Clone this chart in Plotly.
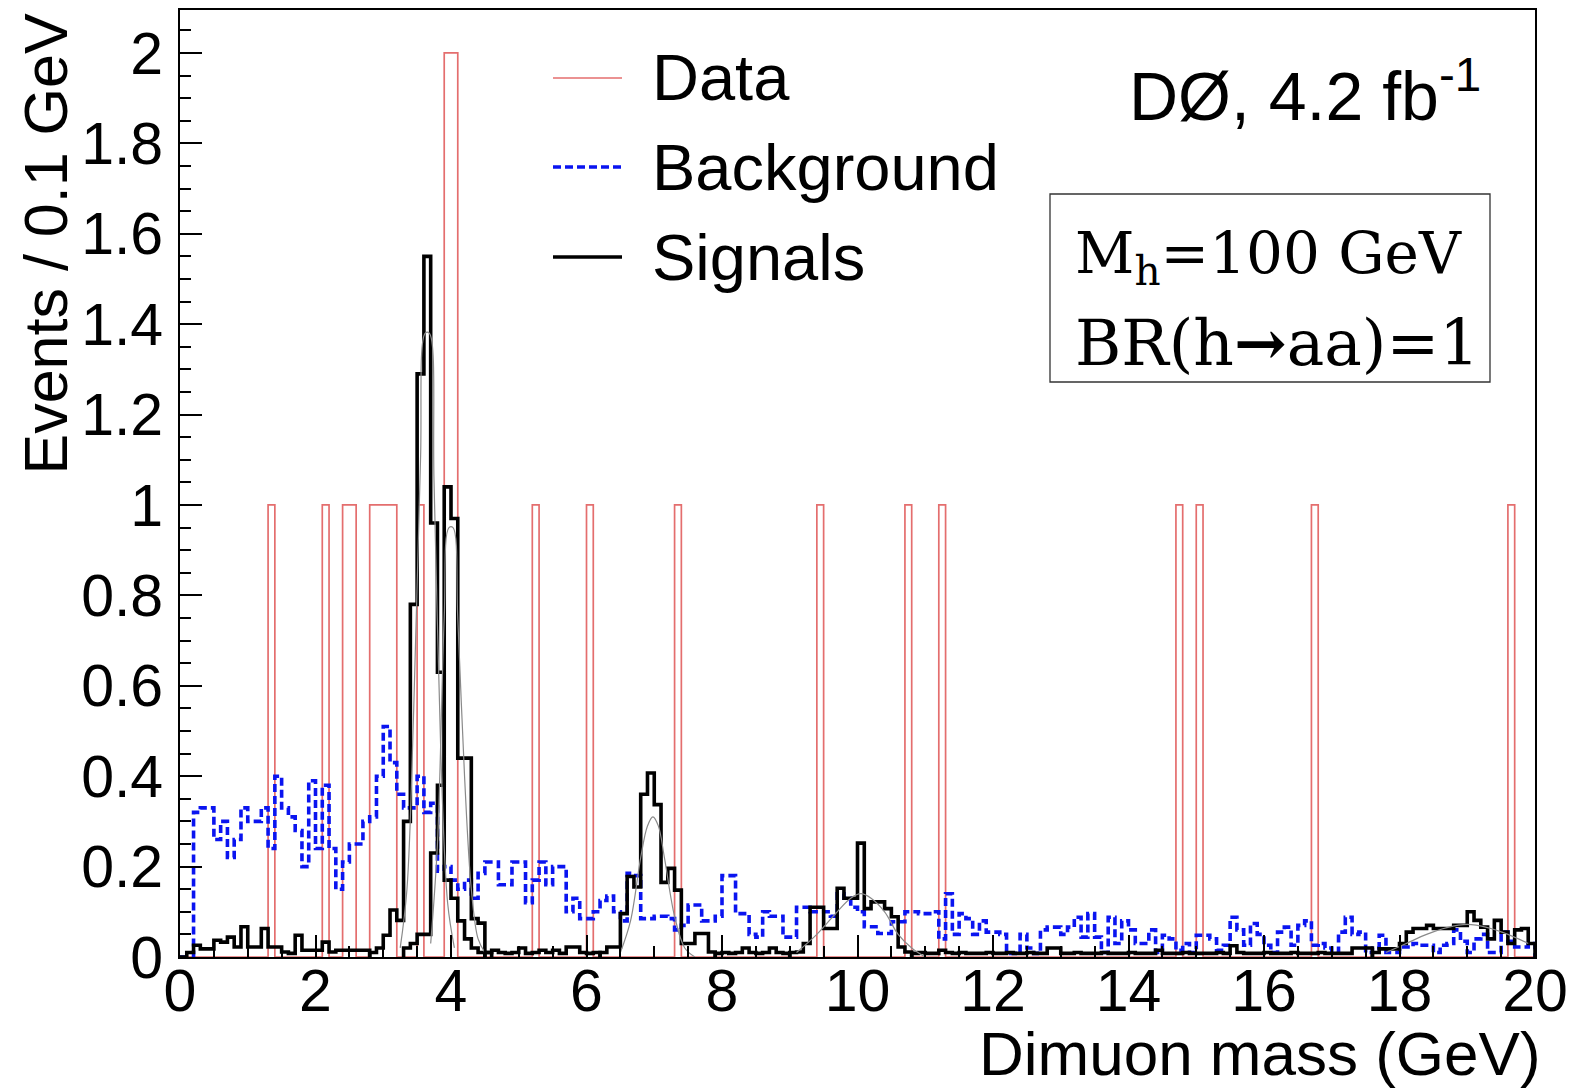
import plotly.graph_objects as go

BIN = 0.1

# ---------------- data (events per 0.1 GeV bin) ----------------
data_bin_lo = [1.3, 2.1, 2.4, 2.5, 2.8, 2.9, 3.0, 3.1, 3.5, 3.9, 4.0, 5.2, 6.0,
               7.3, 9.4, 10.7, 11.2, 14.7, 15.0, 16.7, 19.6]
data_counts = [1, 1, 1, 1, 1, 1, 1, 1, 1, 2, 2, 1, 1,
               1, 1, 1, 1, 1, 1, 1, 1]

# ---------------- background, 200 bins from 0 to 20 GeV ----------------
bkg_start = 0.0
bkg_values = [
    0, 0, 0.32, 0.33, 0.33, 0.26, 0.30, 0.22, 0.26, 0.33,
    0.30, 0.30, 0.33, 0.24, 0.40, 0.33, 0.31, 0.28, 0.20, 0.39,
    0.24, 0.38, 0.24, 0.15, 0.21, 0.25, 0.25, 0.30, 0.31, 0.40,
    0.51, 0.43, 0.36, 0.33, 0.33, 0.40, 0.32, 0.34, 0.19, 0.20,
    0.17, 0.15, 0.17, 0.13, 0.185, 0.21, 0.21, 0.16, 0.16, 0.21,
    0.21, 0.12, 0.17, 0.21, 0.16, 0.20, 0.20, 0.10, 0.13, 0.085,
    0.085, 0.10, 0.125, 0.135, 0.10, 0.08, 0.185, 0.18, 0.085, 0.085,
    0.09, 0.09, 0.085, 0.06, 0.07, 0.115, 0.115, 0.08, 0.08, 0.09,
    0.18, 0.18, 0.096, 0.096, 0.05, 0.044, 0.10, 0.09, 0.09, 0.044,
    0.044, 0.11, 0.11, 0.10, 0.10, 0.10, 0.09, 0.14, 0.13, 0.11,
    0.10, 0.067, 0.067, 0.052, 0.052, 0.078, 0.078, 0.10, 0.10, 0.096,
    0.096, 0.10, 0.04, 0.14, 0.05, 0.096, 0.085, 0.05, 0.08, 0.055,
    0.055, 0.05, 0.008, 0.008, 0.05, 0.02, 0.008, 0.06, 0.066, 0.066,
    0.05, 0.066, 0.088, 0.044, 0.096, 0.044, 0.01, 0.088, 0.03, 0.08,
    0.06, 0.03, 0.03, 0.06, 0.01, 0.048, 0.04, 0.015, 0.03, 0.01,
    0.048, 0.048, 0.04, 0.015, 0.026, 0.088, 0.06, 0.026, 0.074, 0.05,
    0.026, 0.01, 0.055, 0.066, 0.026, 0.07, 0.08, 0.026, 0.03, 0.02,
    0.01, 0.055, 0.088, 0.05, 0.055, 0.01, 0.02, 0.048, 0.01, 0.01,
    0.022, 0.022, 0.03, 0.026, 0.026, 0.01, 0.026, 0.03, 0.06, 0.035,
    0.01, 0.04, 0.05, 0.01, 0.01, 0.055, 0.035, 0.022, 0.022, 0.03,
]

# ---------------- signal histograms ----------------
sig_low_start = 0.0
sig_low_values = [0.0, 0.01, 0.026, 0.018, 0.018, 0.037, 0.033, 0.044, 0.022, 0.067,
                  0.022, 0.022, 0.063, 0.022, 0.022, 0.011, 0.008, 0.048, 0.015, 0.015,
                  0.015, 0.033, 0.011, 0.015, 0.015, 0.015, 0.015, 0.015]
sigA_start = 2.8
sigA_values = [0.01, 0.02, 0.048, 0.104, 0.081, 0.30, 0.78, 1.29, 1.55, 0.96,
               0.63, 0.17, 0.13, 0.08, 0.04, 0.02, 0.01]
sigB_start = 3.3
sigB_values = [0.02, 0.03, 0.05, 0.05, 0.23, 0.38, 1.04, 0.97, 0.44, 0.44,
               0.085, 0.075, 0.01]
sig_mid_start = 4.5
sig_mid_values = [0.01, 0.015, 0.01, 0.008, 0.01, 0.02, 0.008, 0.01, 0.015, 0.01,
                  0.015, 0.008, 0.022, 0.022, 0.01, 0.008, 0.01]
sigC_start = 6.2
sigC_values = [0.01, 0.022, 0.022, 0.096, 0.178, 0.155, 0.36, 0.407, 0.337, 0.165,
               0.196, 0.148, 0.03, 0.03, 0.052, 0.052, 0.011]
sig_mid2_start = 7.9
sig_mid2_values = [0.008, 0.01, 0.008, 0.01, 0.02, 0.01, 0.008, 0.01, 0.02, 0.01, 0.008]
sigD_start = 9.0
sigD_values = [0.01, 0.011, 0.03, 0.11, 0.11, 0.063, 0.063, 0.152, 0.13, 0.13,
               0.252, 0.107, 0.122, 0.122, 0.107, 0.089, 0.022, 0.011]
sig_floor_start = 10.8
sig_floor_values = [0.008, 0.01, 0.008, 0.008, 0.015, 0.01, 0.008, 0.01, 0.008, 0.008,
                    0.008, 0.01, 0.008, 0.008, 0.01, 0.008, 0.008, 0.01, 0.008, 0.008,
                    0.02, 0.02, 0.008, 0.008, 0.01, 0.008, 0.008, 0.008, 0.01, 0.008,
                    0.008, 0.008, 0.01, 0.008, 0.008, 0.008, 0.015, 0.008, 0.008, 0.008,
                    0.01, 0.008, 0.008, 0.008, 0.008, 0.01, 0.008, 0.025, 0.01, 0.008,
                    0.008, 0.008, 0.01, 0.008, 0.008, 0.008, 0.01, 0.008, 0.008, 0.008,
                    0.01, 0.008, 0.008, 0.008, 0.008, 0.02, 0.02, 0.02]
sigE_start = 17.6
sigE_values = [0.01, 0.018, 0.018, 0.018, 0.03, 0.055, 0.063, 0.063, 0.07, 0.063,
               0.063, 0.063, 0.07, 0.07, 0.1, 0.081, 0.066, 0.04, 0.081, 0.055,
               0.03, 0.06, 0.063, 0.03]

# ---------------- fitted signal shapes (thin grey curves) ----------------
fitA_x = [3.25, 3.35, 3.45, 3.55, 3.62, 3.68, 3.75, 3.85, 3.95, 4.05]
fitA_y = [0.02, 0.15, 0.55, 1.10, 1.38, 1.38, 1.05, 0.45, 0.12, 0.02]
fitB_x = [3.7, 3.8, 3.9, 3.97, 4.03, 4.1, 4.2, 4.3, 4.4, 4.5]
fitB_y = [0.03, 0.25, 0.75, 0.95, 0.95, 0.75, 0.40, 0.15, 0.04, 0.01]
fitC_x = [6.5, 6.65, 6.8, 6.9, 6.98, 7.06, 7.15, 7.3, 7.45, 7.6]
fitC_y = [0.01, 0.08, 0.22, 0.29, 0.31, 0.29, 0.22, 0.09, 0.02, 0.0]
fitD_x = [9.1, 9.4, 9.7, 9.9, 10.05, 10.2, 10.4, 10.6, 10.8, 11.0]
fitD_y = [0.01, 0.05, 0.10, 0.13, 0.14, 0.13, 0.10, 0.05, 0.02, 0.0]
fitE_x = [17.8, 18.1, 18.4, 18.7, 19.0, 19.3, 19.6, 19.9]
fitE_y = [0.01, 0.03, 0.05, 0.065, 0.072, 0.065, 0.05, 0.03]

x_ticks = [0, 2, 4, 6, 8, 10, 12, 14, 16, 18, 20]
y_ticks = [0, 0.2, 0.4, 0.6, 0.8, 1, 1.2, 1.4, 1.6, 1.8, 2]

# ---------------- helpers ----------------
def step_xy(start, values):
    i0 = round(start / BIN)
    edges = [round((i0 + i) * BIN, 4) for i in range(len(values) + 1)]
    x = [edges[0]] + edges
    y = [0] + list(values) + [0]
    return x, y

data_full = [0] * 200
for lo, c in zip(data_bin_lo, data_counts):
    data_full[round(lo / BIN)] = c

# page body has an 8px default margin: size the figure so it fits the window
OFF = 8
W, H = 1578 - OFF, 1088 - OFF
# plot area in screen pixels: x 180..1535, y 10..957
SX0, SX1, SY0, SY1 = 180, 1535, 10, 957
L, T = SX0 - OFF, SY0 - OFF
R, B = W - (SX1 - OFF), H - (SY1 - OFF)
PW, PH = SX1 - SX0, SY1 - SY0


def px(xs):
    return (xs - SX0) / PW


def py(ys):
    return (SY1 - ys) / PH


FONT = "Liberation Sans, Arial, sans-serif"
SERIF = "DejaVu Serif, serif"
RED = "#e46e6e"
BLUE = "#0a14f0"

fig = go.Figure()

# data
dx, dy = step_xy(0.0, data_full)
fig.add_trace(go.Scatter(x=dx, y=dy, mode="lines", line_shape="hv",
                         line=dict(color=RED, width=1.7), showlegend=False))
# background
bx, by = step_xy(bkg_start, bkg_values)
fig.add_trace(go.Scatter(x=bx, y=by, mode="lines", line_shape="hv",
                         line=dict(color=BLUE, width=3.6, dash="8px,4px"),
                         showlegend=False))
# signals
for st, vals in [(sig_low_start, sig_low_values), (sigA_start, sigA_values),
                 (sigB_start, sigB_values), (sig_mid_start, sig_mid_values),
                 (sigC_start, sigC_values), (sig_mid2_start, sig_mid2_values),
                 (sigD_start, sigD_values), (sig_floor_start, sig_floor_values),
                 (sigE_start, sigE_values)]:
    sx, sy = step_xy(st, vals)
    fig.add_trace(go.Scatter(x=sx, y=sy, mode="lines", line_shape="hv",
                             line=dict(color="black", width=3.6), showlegend=False))
# fits
for fx, fy in [(fitA_x, fitA_y), (fitB_x, fitB_y), (fitC_x, fitC_y),
               (fitD_x, fitD_y), (fitE_x, fitE_y)]:
    fig.add_trace(go.Scatter(x=fx, y=fy, mode="lines", line_shape="spline",
                             line=dict(color="#8a8a8a", width=1.2), showlegend=False))

# legend (manual, ROOT style)
legend_items = [("Data", dict(color=RED, width=1.7), 78),
                ("Background", dict(color=BLUE, width=3.6, dash="8px,4px"), 167),
                ("Signals", dict(color="black", width=3.6), 257)]
shapes = []
annotations = []
for label, ln, yc in legend_items:
    shapes.append(dict(type="line", xref="paper", yref="paper",
                       x0=px(553), x1=px(622), y0=py(yc), y1=py(yc), line=ln))
    annotations.append(dict(text=label, xref="paper", yref="paper", x=px(650), y=py(yc),
                            xanchor="left", yanchor="middle", showarrow=False,
                            font=dict(family=FONT, size=65, color="black")))

# info box
shapes.append(dict(type="rect", xref="paper", yref="paper",
                   x0=px(1050), x1=px(1490), y0=py(194), y1=py(382),
                   line=dict(color="#333333", width=1.3), fillcolor="white", layer="above"))
annotations.append(dict(text="M<sub>h</sub>=100 GeV", xref="paper", yref="paper",
                        x=px(1073), y=py(257), xanchor="left", yanchor="middle",
                        showarrow=False, font=dict(family=SERIF, size=58, color="black")))
annotations.append(dict(text="BR(h<b>→</b>aa)=1", xref="paper", yref="paper",
                        x=px(1073), y=py(343), xanchor="left", yanchor="middle",
                        showarrow=False, font=dict(family=SERIF, size=63, color="black")))
# experiment label
annotations.append(dict(text="DØ, 4.2 fb<sup>-1</sup>", xref="paper", yref="paper",
                        x=px(1127), y=py(136), xanchor="left", yanchor="bottom",
                        showarrow=False, font=dict(family=FONT, size=68, color="black")))
# axis titles
annotations.append(dict(text="Dimuon mass (GeV)", xref="paper", yref="paper",
                        x=px(1543), y=py(1053), xanchor="right", yanchor="middle",
                        showarrow=False, font=dict(family=FONT, size=62, color="black")))
annotations.append(dict(text="Events / 0.1 GeV", xref="paper", yref="paper",
                        x=px(45), y=py(12), xanchor="center", yanchor="top",
                        textangle=-90, showarrow=False,
                        font=dict(family=FONT, size=61, color="black")))

fig.update_layout(
    width=W, height=H, autosize=False,
    margin=dict(l=L, r=R, t=T, b=B, pad=0, autoexpand=False),
    plot_bgcolor="white", paper_bgcolor="white",
    showlegend=False,
    shapes=shapes, annotations=annotations,
    font=dict(family=FONT, color="black"),
)
fig.update_xaxes(range=[0, 20], tickvals=x_ticks, ticktext=[str(v) for v in x_ticks],
                 showline=True, linecolor="black", linewidth=2, mirror=True,
                 ticks="inside", ticklen=22, tickwidth=2, tickcolor="black",
                 minor=dict(ticks="inside", ticklen=11, tickwidth=2, tickcolor="black", dtick=0.5),
                 showgrid=False, zeroline=False, automargin=False,
                 ticklabelstandoff=-19,
                 tickfont=dict(family=FONT, size=59, color="black"))
fig.update_yaxes(range=[0, 2.095], tickvals=y_ticks, ticktext=[f"{v:g}" for v in y_ticks],
                 showline=True, linecolor="black", linewidth=2, mirror=True,
                 ticks="inside", ticklen=22, tickwidth=2, tickcolor="black",
                 minor=dict(ticks="inside", ticklen=11, tickwidth=2, tickcolor="black", dtick=0.05),
                 showgrid=False, zeroline=False, automargin=False, ticklabelstandoff=3,
                 tickfont=dict(family=FONT, size=59, color="black"))

fig.write_html("out.html")
